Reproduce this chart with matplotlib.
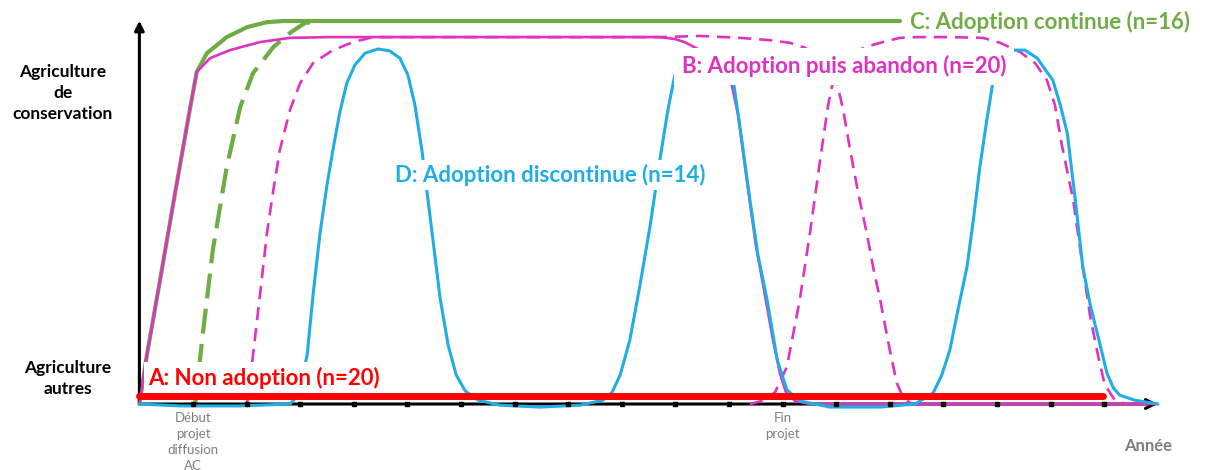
import matplotlib.pyplot as plt

# Schematic adoption trajectories (x = years, y = 0 other agriculture .. 1 conservation agriculture)
years_ticks = list(range(1, 19))

# C: continuous adoption (solid green)
c_x = [0, 0.14, 0.38, 0.66, 0.94, 1.07, 1.26, 1.63, 2.01, 2.38, 2.68, 14.19]
c_y = [0, 0.128, 0.319, 0.546, 0.768, 0.867, 0.916, 0.958, 0.984, 0.997, 1.0, 1.0]

# C: later adopter (dashed green)
c2_x = [1.04, 1.17, 1.37, 1.63, 1.88, 2.12, 2.50, 2.81, 3.09, 3.37]
c2_y = [0, 0.167, 0.402, 0.619, 0.775, 0.864, 0.932, 0.969, 0.995, 1.0]

# B: adoption then abandonment (solid magenta)
b_x = [0, 0.14, 0.38, 0.66, 0.94, 1.07, 1.32, 1.69, 2.25, 2.81, 3.56, 9.71, 9.99, 10.17,
       10.46, 10.74, 11.02, 11.17, 11.34, 11.50, 11.63, 11.82, 11.95, 12.06, 12.23, 12.51, 19]
b_y = [0, 0.128, 0.319, 0.546, 0.768, 0.867, 0.903, 0.924, 0.945, 0.956, 0.958, 0.958, 0.953, 0.945,
       0.924, 0.893, 0.854, 0.755, 0.577, 0.415, 0.316, 0.167, 0.081, 0.031, 0.008, 0, 0]

# B: dashed variants
b2_x = [2.01, 2.12, 2.25, 2.38, 2.50, 2.62, 2.81, 3.00, 3.24, 3.61, 3.99, 4.36, 9.71, 10.46, 11.21,
        11.76, 12.14, 12.42, 12.66, 12.85, 13.01, 13.13, 13.26, 13.41, 13.57, 13.70, 13.82, 14.00,
        14.13, 14.25, 14.41]
b2_y = [0, 0.128, 0.285, 0.446, 0.559, 0.663, 0.768, 0.838, 0.890, 0.924, 0.945, 0.958, 0.958, 0.961,
        0.956, 0.950, 0.943, 0.930, 0.906, 0.880, 0.841, 0.768, 0.663, 0.551, 0.446, 0.350, 0.272,
        0.141, 0.055, 0.016, 0]
b3_x = [11.39, 11.67, 11.86, 12.08, 12.32, 12.51, 12.70, 12.85, 12.94, 13.07, 13.26, 13.54, 13.87,
        14.19, 14.51, 15.12, 15.74, 16.06, 16.43, 16.71, 16.93, 17.08, 17.21, 17.42, 17.60, 17.74,
        17.89, 18.01, 18.20, 18.39]
b3_y = [0, 0.010, 0.031, 0.097, 0.272, 0.446, 0.637, 0.781, 0.841, 0.885, 0.911, 0.932, 0.945,
        0.956, 0.958, 0.958, 0.956, 0.943, 0.919, 0.890, 0.846, 0.781, 0.676, 0.533, 0.358, 0.227,
        0.123, 0.050, 0.010, 0]

# D: discontinuous adoption (cyan)
d_x = [0, 0.76, 1.88, 2.81, 2.96, 3.05, 3.13, 3.24, 3.37, 3.50, 3.61, 3.74, 3.87, 4.02, 4.21, 4.45,
       4.67, 4.86, 5.01, 5.14, 5.27, 5.42, 5.61, 5.76, 5.91, 6.08, 6.32, 6.73, 7.47, 8.22, 8.65,
       8.82, 8.97, 9.15, 9.34, 9.53, 9.71, 9.86, 9.99, 10.17, 10.42, 10.68, 10.87, 11.07, 11.22,
       11.39, 11.54, 11.71, 11.90, 12.08, 12.32, 12.88, 13.82, 14.47, 14.81, 14.97, 15.12, 15.27,
       15.44, 15.57, 15.68, 15.81, 15.93, 16.06, 16.28, 16.52, 16.75, 16.93, 17.04, 17.18, 17.31,
       17.46, 17.60, 17.74, 17.87, 18.05, 18.17, 18.29, 18.57, 19]
d_y = [0, -0.005, -0.005, 0, 0.023, 0.076, 0.128, 0.285, 0.446, 0.572, 0.663, 0.762, 0.838, 0.885,
       0.916, 0.927, 0.922, 0.903, 0.859, 0.781, 0.663, 0.493, 0.277, 0.154, 0.076, 0.034, 0.010,
       -0.003, -0.008, -0.003, 0.010, 0.031, 0.076, 0.167, 0.311, 0.467, 0.637, 0.768, 0.859, 0.911,
       0.924, 0.911, 0.885, 0.854, 0.708, 0.533, 0.389, 0.272, 0.115, 0.037, 0.008, -0.008, -0.008,
       0, 0.029, 0.076, 0.141, 0.245, 0.358, 0.493, 0.619, 0.742, 0.846, 0.898, 0.924, 0.924, 0.903,
       0.867, 0.846, 0.781, 0.708, 0.533, 0.358, 0.258, 0.185, 0.081, 0.042, 0.023, 0.010, 0]

# A: non adoption (red)
a_x = [0, 17.98]
a_y = [0.021, 0.021]

GREEN = '#6FAC46'
MAGENTA = '#E032C0'
CYAN = '#1FADE4'
RED = '#FF0000'
GREY = '#7F7F7F'
FONT = 'Lato'

fig = plt.figure(figsize=(12.12, 4.70), dpi=100)
ax = fig.add_axes([0.1150, 0.1404, 0.8403, 0.8149])
ax.set_xlim(0, 19)
ax.set_ylim(0, 1)
ax.axis('off')

# axes with arrows
ax.annotate('', xy=(0, 1.008), xytext=(0, -0.003),
            arrowprops=dict(arrowstyle='-|>', lw=2.2, color='black', mutation_scale=14),
            annotation_clip=False)
ax.annotate('', xy=(19.05, 0), xytext=(0, 0),
            arrowprops=dict(arrowstyle='->', lw=2.2, color='black', mutation_scale=16),
            annotation_clip=False)
ax.plot(years_ticks, [0] * len(years_ticks), 's', color='black', ms=2.5, clip_on=False, zorder=8)

kw = dict(clip_on=False, solid_capstyle='round', solid_joinstyle='round')
ax.plot(c_x, c_y, color=GREEN, lw=3.0, zorder=2, **kw)
ax.plot(c2_x, c2_y, color=GREEN, lw=3.0, dashes=(6, 2.5), zorder=2, clip_on=False)
ax.plot(b_x, b_y, color=MAGENTA, lw=1.9, zorder=3, **kw)
ax.plot(b2_x, b2_y, color=MAGENTA, lw=1.9, dashes=(5, 3), zorder=3, clip_on=False)
ax.plot(b3_x, b3_y, color=MAGENTA, lw=1.9, dashes=(5, 3), zorder=3, clip_on=False)
ax.plot(d_x, d_y, color=CYAN, lw=2.2, zorder=4, **kw)
ax.plot(a_x, a_y, color=RED, lw=5, zorder=7, **kw)

box = dict(facecolor='white', edgecolor='none', boxstyle='square,pad=0.2')
box_b = dict(facecolor='white', edgecolor='none', boxstyle='square,pad=0.34')
ax.text(0.16, 0.068, 'A: Non adoption (n=20)', color=RED, fontsize=16, fontweight='bold',
        family=FONT, va='center', ha='left', bbox=box, zorder=6)
ax.text(10.12, 0.882, 'B: Adoption puis abandon (n=20)', color=MAGENTA, fontsize=16,
        fontweight='bold', family=FONT, va='center', ha='left', bbox=box_b, zorder=6)
ax.text(14.37, 0.997, 'C: Adoption continue (n=16)', color=GREEN, fontsize=16,
        fontweight='bold', family=FONT, va='center', ha='left', zorder=6)
ax.text(4.77, 0.598, 'D: Adoption discontinue (n=14)', color=CYAN, fontsize=16,
        fontweight='bold', family=FONT, va='center', ha='left', bbox=box, zorder=6)

ax.text(-1.425, 0.812, 'Agriculture\nde\nconservation', fontsize=12.5, fontweight='bold',
        family=FONT, ha='center', va='center', linespacing=1.4)
ax.text(-1.33, 0.066, 'Agriculture\nautres', fontsize=12.5, fontweight='bold',
        family=FONT, ha='center', va='center', linespacing=1.4)

ax.text(1.0, -0.022, 'Début\nprojet\ndiffusion\nAC', fontsize=9.5, color=GREY, family=FONT,
        ha='center', va='top', linespacing=1.4)
ax.text(12.0, -0.022, 'Fin\nprojet', fontsize=9.5, color=GREY, family=FONT,
        ha='center', va='top', linespacing=1.4)
ax.text(18.82, -0.11, 'Année', fontsize=12, color=GREY, fontweight='bold', family=FONT,
        ha='center', va='center')

fig.savefig('out.png', dpi=100)
